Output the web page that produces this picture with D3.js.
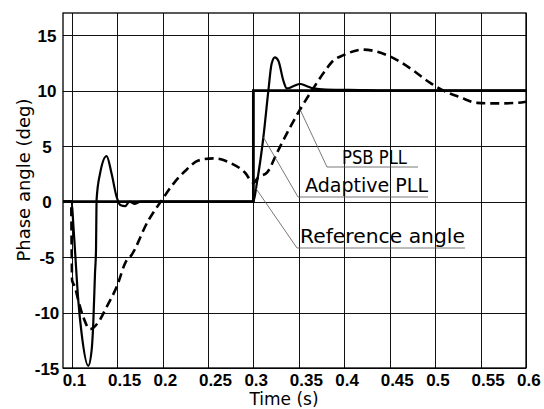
<!DOCTYPE html>
<html lang="en">
<head>
<meta charset="UTF-8">
<title>Phase angle response</title>
<script src="https://d3js.org/d3.v7.min.js"></script>
<style>
  body { margin: 0; background: #fff; }
  .tick text { font-family: "Liberation Sans", Arial, sans-serif; font-weight: bold; font-size: 17px; fill: #000; }
  .tick line { stroke: #111; stroke-width: 1; shape-rendering: crispEdges; }
  .title, .note { font-family: "DejaVu Sans", sans-serif; fill: #000; }
</style>
</head>
<body>
<svg id="chart" width="544" height="409"></svg>
<script>
// tick values
const xTicks = [0.1, 0.15, 0.2, 0.25, 0.3, 0.35, 0.4, 0.45, 0.5, 0.55, 0.6];
const yTicks = [-15, -10, -5, 0, 5, 10, 15];

// reference angle (step at 0.3 s)
const refTime = [0.0905, 0.3, 0.3, 0.6];
const refAngle = [0, 0, 10, 10];

// adaptive PLL (solid)
const adaptiveTime = [0.0905, 0.1, 0.1018, 0.1037, 0.1073, 0.111, 0.1183, 0.122, 0.1238, 0.1257, 0.1268, 0.1275,
  0.1312, 0.1385, 0.144, 0.1496, 0.1535, 0.159, 0.1635, 0.169, 0.176, 0.3, 0.3037, 0.311, 0.3165, 0.32, 0.3237,
  0.3275, 0.333, 0.3368, 0.344, 0.3514, 0.3588, 0.366, 0.38, 0.42, 0.45, 0.6];
const adaptiveAngle = [0, 0, -2, -4.4, -8.9, -11.9, -14.8, -13.4, -11, -6.5, -4.4, 0.2,
  2.5, 4.1, 2.5, 0.4, -0.3, -0.4, 0, -0.2, 0, 0, 1.6, 5.8, 10, 12.4, 13,
  12.7, 10.9, 10.2, 10.4, 10.6, 10.4, 10.2, 10.1, 10.05, 10, 10];

// PSB PLL (dashed)
const psbTime = [0.0905, 0.0995, 0.1, 0.1005, 0.1037, 0.1073, 0.1128, 0.1201, 0.1292, 0.1385, 0.1495, 0.1605,
  0.1642, 0.1844, 0.199, 0.2119, 0.2267, 0.2394, 0.256, 0.2743, 0.2909, 0.3, 0.3055, 0.3148, 0.3272, 0.3404,
  0.3514, 0.3643, 0.379, 0.3878, 0.3991, 0.4211, 0.4469, 0.4616, 0.4762, 0.4946, 0.5093, 0.5276, 0.546,
  0.568, 0.59, 0.6];
const psbAngle = [0, 0, -4, -7.1, -7.7, -8.9, -10.4, -11.5, -10.9, -9.5, -7.7, -5.3,
  -5, -1.7, 0.1, 1.6, 2.9, 3.7, 3.9, 3.5, 2.6, 1.7, 2.2, 2.6, 4.6, 6.7,
  8.3, 10, 11.8, 12.7, 13.2, 13.7, 13.2, 12.6, 11.8, 10.7, 10, 9.4, 8.9,
  8.85, 8.9, 9.0];

const plotLeft = 63, plotRight = 526, plotTop = 13, plotBottom = 368;

const svg = d3.select("#chart");

const x = d3.scaleLinear().domain([0.0905, 0.6]).range([plotLeft, plotRight]);
const y = d3.scaleLinear().domain([-15, 17]).range([plotBottom, plotTop]);

// x axis with grid
const gx = svg.append("g")
  .attr("transform", "translate(0," + plotBottom + ")")
  .call(d3.axisBottom(x).tickValues(xTicks).tickFormat(d => String(d)).tickSizeInner(-(plotBottom - plotTop)).tickSizeOuter(0));
gx.select(".domain").remove();
gx.selectAll(".tick text")
  .attr("text-anchor", "start")
  .attr("x", -9.5)
  .attr("y", 18)
  .attr("dy", null);

// y axis with grid
const gy = svg.append("g")
  .attr("transform", "translate(" + plotLeft + ",0)")
  .call(d3.axisLeft(y).tickValues(yTicks).tickFormat(d => String(d)).tickSizeInner(-(plotRight - plotLeft)).tickSizeOuter(0));
gy.select(".domain").remove();
gy.selectAll(".tick text")
  .attr("text-anchor", "middle")
  .attr("x", -16)
  .attr("dy", "0.36em");

// frame
svg.append("rect")
  .attr("x", plotLeft).attr("y", plotTop)
  .attr("width", plotRight - plotLeft).attr("height", plotBottom - plotTop)
  .attr("fill", "none").attr("stroke", "#000").attr("stroke-width", 1.3);

const line = d3.line().x(d => x(d[0])).y(d => y(d[1]));
const smooth = d3.line().x(d => x(d[0])).y(d => y(d[1])).curve(d3.curveMonotoneX);

svg.append("path")
  .datum(d3.zip(psbTime, psbAngle))
  .attr("d", smooth)
  .attr("fill", "none").attr("stroke", "#000")
  .attr("stroke-width", 2.6).attr("stroke-dasharray", "9,5");

svg.append("path")
  .datum(d3.zip(adaptiveTime, adaptiveAngle))
  .attr("d", smooth)
  .attr("fill", "none").attr("stroke", "#000")
  .attr("stroke-width", 2.2).attr("stroke-linejoin", "round");

svg.append("path")
  .datum(d3.zip(refTime, refAngle))
  .attr("d", line)
  .attr("fill", "none").attr("stroke", "#000")
  .attr("stroke-width", 2.8);

// annotations with leader lines
const notes = [
  { text: "PSB PLL", at: [0.3514, 8.3], elbow: [327, 167], end: 418, tx: 342, ty: 164, w: 65 },
  { text: "Adaptive PLL", at: [0.311, 5.8], elbow: [298, 197], end: 428, tx: 305, ty: 192, w: 123 },
  { text: "Reference angle", at: [0.301, 1.4], elbow: [297, 248], end: 465, tx: 300, ty: 243, w: 165 }
];

notes.forEach(n => {
  svg.append("polyline")
    .attr("points", [[x(n.at[0]), y(n.at[1])], n.elbow, [n.end, n.elbow[1]]].map(p => p.join(",")).join(" "))
    .attr("fill", "none").attr("stroke", "#555").attr("stroke-width", 0.8);
  svg.append("text")
    .attr("class", "note")
    .attr("x", n.tx).attr("y", n.ty)
    .attr("font-size", 19)
    .attr("textLength", n.w).attr("lengthAdjust", "spacingAndGlyphs")
    .text(n.text);
});

// axis titles
svg.append("text")
  .attr("class", "title")
  .attr("x", 284).attr("y", 405)
  .attr("text-anchor", "middle")
  .attr("font-size", 17)
  .text("Time (s)");

svg.append("text")
  .attr("class", "title")
  .attr("transform", "translate(30,180) rotate(-90)")
  .attr("text-anchor", "middle")
  .attr("font-size", 18)
  .text("Phase angle (deg)");
</script>
</body>
</html>
